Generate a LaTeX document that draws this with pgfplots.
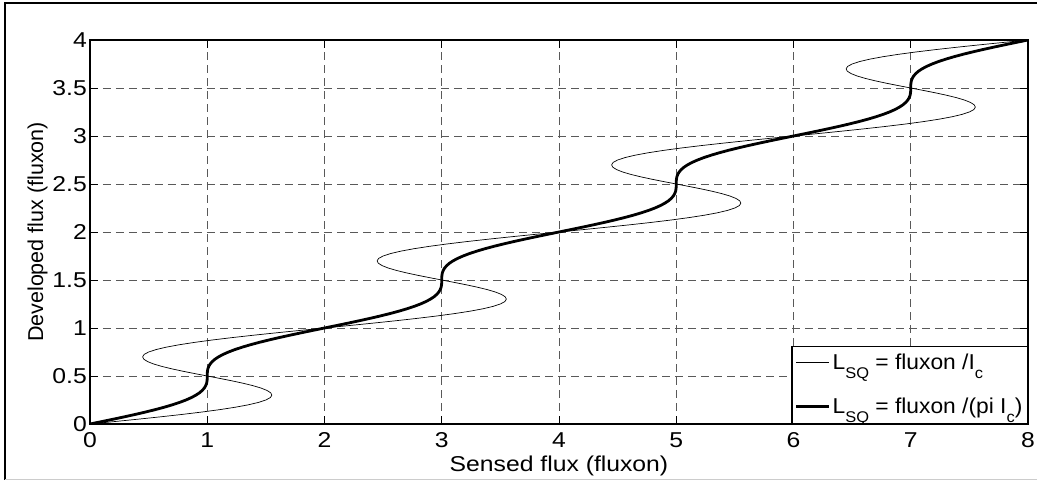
\documentclass[border=0pt]{standalone}
\usepackage{pgfplots}
\pgfplotsset{compat=1.18}
\usepackage{fontspec}
\setmainfont{Liberation Sans}
\newcommand\sub[1]{\raisebox{-9pt}{\fontsize{15.5}{15.5}\selectfont #1}}
\newcommand\hs[1]{\scalebox{1.15}[1]{#1}}
\newcommand\hl[1]{\scalebox{1.06}[1]{#1}}
\begin{document}
\begin{tikzpicture}
\useasboundingbox (-90pt,-57pt) rectangle (947pt,424pt);
\draw[line width=2pt] (-85pt,-56pt) -- (-85pt,421pt) -- (947pt,421pt);
\draw[line width=1pt, gray!40] (-85pt,-55.5pt) -- (947pt,-55.5pt);
\begin{axis}[
  at={(0pt,0pt)}, anchor=south west,
  scale only axis, width=938pt, height=384pt,
  xmin=0, xmax=8, ymin=0, ymax=4,
  xtick={0,1,...,8}, ytick={0,0.5,...,4},
  xticklabels={\hs{0},\hs{1},\hs{2},\hs{3},\hs{4},\hs{5},\hs{6},\hs{7},\hs{8}},
  yticklabels={\hs{0},\hs{0.5},\hs{1},\hs{1.5},\hs{2},\hs{2.5},\hs{3},\hs{3.5},\hs{4}},
  tick align=inside, major tick length=8pt,
  tick style={black, line width=0.8pt},
  axis line style={black, line width=1.2pt},
  grid=major,
  major grid style={gray!70!black, line width=0.8pt, dash pattern=on 8pt off 5pt},
  tick label style={font=\fontsize{21.5}{24}\selectfont},
  label style={font=\fontsize{21.5}{24}\selectfont},
  xlabel={\hs{Sensed flux (fluxon)}},
  ylabel={Developed flux (fluxon)},
  xlabel style={at={(axis description cs:0.5,-0.125)}, anchor=base},
  ylabel style={at={(axis description cs:-0.0501,0.5)}, anchor=base},
  xticklabel style={anchor=base, yshift=-24pt, inner sep=0pt},
  yticklabel style={anchor=east, inner sep=0pt, xshift=-3pt},
  legend style={at={(1,0)}, anchor=south east, draw=black, line width=1.2pt,
    font=\fontsize{21.5}{24}\selectfont, inner xsep=3pt, inner ysep=6pt, row sep=23pt,
    cells={anchor=west}},
  legend image code/.code={\draw[#1] (0pt,0pt) -- (33pt,0pt);},
  clip=true,
]
\addplot[black, line width=0.7pt, line join=round] coordinates {
(0,0) (0.2064,0.025) (0.4090,0.05) (0.6040,0.075) (0.7878,0.1) (0.9571,0.125) (1.1090,0.15) (1.2410,0.175) (1.3511,0.2) (1.4377,0.225) (1.5,0.25) (1.5377,0.275) (1.5511,0.3) (1.5410,0.325) (1.5090,0.35) (1.4571,0.375) (1.3878,0.4) (1.3040,0.425) (1.2090,0.45) (1.1064,0.475) (1,0.5) (0.8936,0.525) (0.7910,0.55) (0.6960,0.575) (0.6122,0.6) (0.5429,0.625) (0.4910,0.65) (0.4590,0.675) (0.4489,0.7) (0.4623,0.725) (0.5,0.75) (0.5623,0.775) (0.6489,0.8) (0.7590,0.825) (0.8910,0.85) (1.0429,0.875) (1.2122,0.9) (1.3960,0.925) (1.5910,0.95) (1.7936,0.975) (2,1)
(2.2064,1.025) (2.4090,1.05) (2.6040,1.075) (2.7878,1.1) (2.9571,1.125) (3.1090,1.15) (3.2410,1.175) (3.3511,1.2) (3.4377,1.225) (3.5,1.25) (3.5377,1.275) (3.5511,1.3) (3.5410,1.325) (3.5090,1.35) (3.4571,1.375) (3.3878,1.4) (3.3040,1.425) (3.2090,1.45) (3.1064,1.475) (3,1.5) (2.8936,1.525) (2.7910,1.55) (2.6960,1.575) (2.6122,1.6) (2.5429,1.625) (2.4910,1.65) (2.4590,1.675) (2.4489,1.7) (2.4623,1.725) (2.5,1.75) (2.5623,1.775) (2.6489,1.8) (2.7590,1.825) (2.8910,1.85) (3.0429,1.875) (3.2122,1.9) (3.3960,1.925) (3.5910,1.95) (3.7936,1.975) (4,2)
(4.2064,2.025) (4.4090,2.05) (4.6040,2.075) (4.7878,2.1) (4.9571,2.125) (5.1090,2.15) (5.2410,2.175) (5.3511,2.2) (5.4377,2.225) (5.5,2.25) (5.5377,2.275) (5.5511,2.3) (5.5410,2.325) (5.5090,2.35) (5.4571,2.375) (5.3878,2.4) (5.3040,2.425) (5.2090,2.45) (5.1064,2.475) (5,2.5) (4.8936,2.525) (4.7910,2.55) (4.6960,2.575) (4.6122,2.6) (4.5429,2.625) (4.4910,2.65) (4.4590,2.675) (4.4489,2.7) (4.4623,2.725) (4.5,2.75) (4.5623,2.775) (4.6489,2.8) (4.7590,2.825) (4.8910,2.85) (5.0429,2.875) (5.2122,2.9) (5.3960,2.925) (5.5910,2.95) (5.7936,2.975) (6,3)
(6.2064,3.025) (6.4090,3.05) (6.6040,3.075) (6.7878,3.1) (6.9571,3.125) (7.1090,3.15) (7.2410,3.175) (7.3511,3.2) (7.4377,3.225) (7.5,3.25) (7.5377,3.275) (7.5511,3.3) (7.5410,3.325) (7.5090,3.35) (7.4571,3.375) (7.3878,3.4) (7.3040,3.425) (7.2090,3.45) (7.1064,3.475) (7,3.5) (6.8936,3.525) (6.7910,3.55) (6.6960,3.575) (6.6122,3.6) (6.5429,3.625) (6.4910,3.65) (6.4590,3.675) (6.4489,3.7) (6.4623,3.725) (6.5,3.75) (6.5623,3.775) (6.6489,3.8) (6.7590,3.825) (6.8910,3.85) (7.0429,3.875) (7.2122,3.9) (7.3960,3.925) (7.5910,3.95) (7.7936,3.975) (8,4)
};
\addlegendentry{\hl{L\sub{SQ} = fluxon /I\sub{c}}}
\addplot[black, line width=2.8pt, line join=round] coordinates {
(0,0) (0.0998,0.025) (0.1984,0.05) (0.2945,0.075) (0.3871,0.1) (0.4751,0.125) (0.5575,0.15) (0.6336,0.175) (0.7027,0.2) (0.7644,0.225) (0.8183,0.25) (0.8644,0.275) (0.9027,0.3) (0.9336,0.325) (0.9575,0.35) (0.9751,0.375) (0.9871,0.4) (0.9945,0.425) (0.9984,0.45) (0.9998,0.475) (1,0.5) (1.0002,0.525) (1.0016,0.55) (1.0055,0.575) (1.0129,0.6) (1.0249,0.625) (1.0425,0.65) (1.0664,0.675) (1.0973,0.7) (1.1356,0.725) (1.1817,0.75) (1.2356,0.775) (1.2973,0.8) (1.3664,0.825) (1.4425,0.85) (1.5249,0.875) (1.6129,0.9) (1.7055,0.925) (1.8016,0.95) (1.9002,0.975) (2,1)
(2.0998,1.025) (2.1984,1.05) (2.2945,1.075) (2.3871,1.1) (2.4751,1.125) (2.5575,1.15) (2.6336,1.175) (2.7027,1.2) (2.7644,1.225) (2.8183,1.25) (2.8644,1.275) (2.9027,1.3) (2.9336,1.325) (2.9575,1.35) (2.9751,1.375) (2.9871,1.4) (2.9945,1.425) (2.9984,1.45) (2.9998,1.475) (3,1.5) (3.0002,1.525) (3.0016,1.55) (3.0055,1.575) (3.0129,1.6) (3.0249,1.625) (3.0425,1.65) (3.0664,1.675) (3.0973,1.7) (3.1356,1.725) (3.1817,1.75) (3.2356,1.775) (3.2973,1.8) (3.3664,1.825) (3.4425,1.85) (3.5249,1.875) (3.6129,1.9) (3.7055,1.925) (3.8016,1.95) (3.9002,1.975) (4,2)
(4.0998,2.025) (4.1984,2.05) (4.2945,2.075) (4.3871,2.1) (4.4751,2.125) (4.5575,2.15) (4.6336,2.175) (4.7027,2.2) (4.7644,2.225) (4.8183,2.25) (4.8644,2.275) (4.9027,2.3) (4.9336,2.325) (4.9575,2.35) (4.9751,2.375) (4.9871,2.4) (4.9945,2.425) (4.9984,2.45) (4.9998,2.475) (5,2.5) (5.0002,2.525) (5.0016,2.55) (5.0055,2.575) (5.0129,2.6) (5.0249,2.625) (5.0425,2.65) (5.0664,2.675) (5.0973,2.7) (5.1356,2.725) (5.1817,2.75) (5.2356,2.775) (5.2973,2.8) (5.3664,2.825) (5.4425,2.85) (5.5249,2.875) (5.6129,2.9) (5.7055,2.925) (5.8016,2.95) (5.9002,2.975) (6,3)
(6.0998,3.025) (6.1984,3.05) (6.2945,3.075) (6.3871,3.1) (6.4751,3.125) (6.5575,3.15) (6.6336,3.175) (6.7027,3.2) (6.7644,3.225) (6.8183,3.25) (6.8644,3.275) (6.9027,3.3) (6.9336,3.325) (6.9575,3.35) (6.9751,3.375) (6.9871,3.4) (6.9945,3.425) (6.9984,3.45) (6.9998,3.475) (7,3.5) (7.0002,3.525) (7.0016,3.55) (7.0055,3.575) (7.0129,3.6) (7.0249,3.625) (7.0425,3.65) (7.0664,3.675) (7.0973,3.7) (7.1356,3.725) (7.1817,3.75) (7.2356,3.775) (7.2973,3.8) (7.3664,3.825) (7.4425,3.85) (7.5249,3.875) (7.6129,3.9) (7.7055,3.925) (7.8016,3.95) (7.9002,3.975) (8,4)
};
\addlegendentry{\hl{L\sub{SQ} = fluxon /(pi I\sub{c})}}
\end{axis}
\end{tikzpicture}
\end{document}
